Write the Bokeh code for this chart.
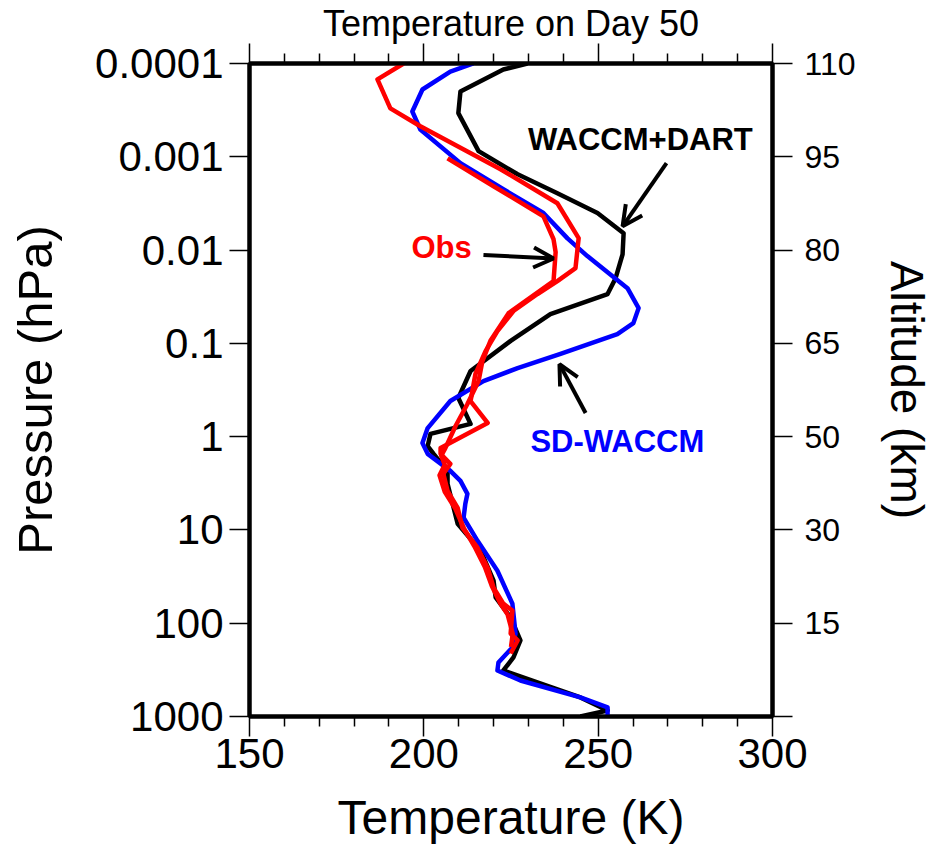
from bokeh.plotting import figure
from bokeh.models import Range1d, LogAxis, LinearAxis, FixedTicker, Arrow, OpenHead, Label
from bokeh.embed import file_html
from bokeh.resources import INLINE

# ---------------- data ----------------
pressure_ticks = [1e-4, 1e-3, 1e-2, 1e-1, 1, 10, 100, 1000]
pressure_labels = ["0.0001", "0.001", "0.01", "0.1", "1", "10", "100", "1000"]
altitude_labels = ["110", "95", "80", "65", "50", "30", "15", ""]
temp_ticks = [150, 200, 250, 300]
temp_labels = ["150", "200", "250", "300"]
temp_minor = [160, 170, 180, 190, 210, 220, 230, 240, 260, 270, 280, 290]

waccm_dart_T = [229.7, 222.8, 210.5, 209.9, 215.7, 226.9, 238.3, 249.8, 257.3, 257.0, 255.0,
                252.7, 236.3, 224.9, 213.4, 209.9, 213.4, 201.9, 201.1, 202.8, 206.8, 206.8,
                209.7, 216.3, 220.0, 220.6, 224.9, 227.7, 225.7, 222.8, 244.9, 252.7, 244.9]
waccm_dart_p = [1e-4, 1.16e-4, 2.0e-4, 3.4e-4, 8.7e-4, 1.54e-3, 2.46e-3, 4.0e-3, 6.6e-3, 0.0111,
                0.020, 0.0296, 0.0485, 0.094, 0.198, 0.385, 0.73, 0.935, 1.26, 1.53, 2.33, 3.2,
                8.6, 16.7, 35, 53, 87, 153, 233, 321, 625, 863, 1000]

sd_waccm_T = [214.2, 207.6, 199.6, 196.7, 199.0, 210.5, 222.8, 234.3, 241.2, 246.9, 258.4, 261.6,
              260.1, 255.5, 239.2, 226.9, 217.1, 207.6, 201.1, 199.6, 201.1, 207.6, 210.5, 212.5,
              211.9, 211.4, 215.4, 221.1, 225.4, 226.3, 225.4, 221.4, 221.1, 227.7, 244.9, 252.7, 252.7]
sd_waccm_p = [1e-4, 1.22e-4, 1.9e-4, 3.27e-4, 5.1e-4, 1.17e-3, 2.23e-3, 4.0e-3, 7.5e-3, 0.0116,
              0.0256, 0.0419, 0.0607, 0.0796, 0.130, 0.184, 0.254, 0.415, 0.81, 1.17, 1.53, 2.33,
              2.98, 4.1, 5.25, 7.4, 13.1, 27.4, 61.7, 129, 182, 264, 321, 411, 625, 800, 1000]

obs1_T = [194.2, 186.7, 190.4, 199.0, 222.0, 238.3, 244.4, 243.5, 238.3, 232.6, 225.7, 221.1,
          217.7, 214.8, 213.4, 218.3, 204.8, 204.8, 207.6, 205.6, 206.8, 209.7, 211.1, 215.4,
          218.3, 220.0, 222.8, 225.4, 224.9, 226.9, 224.9]
obs1_p = [1e-4, 1.48e-4, 3.03e-4, 4.7e-4, 1.36e-3, 3.15e-3, 7.46e-3, 0.0156, 0.0215, 0.0296,
          0.045, 0.0738, 0.121, 0.213, 0.415, 0.713, 1.32, 1.53, 1.96, 2.5, 3.81, 5.8, 9.5,
          15.5, 25.4, 41.6, 61.7, 73.3, 129, 153, 211]

obs2_T = [206.8, 220.0, 234.3, 237.2, 237.8, 237.2, 224.3, 219.1, 216.8, 215.7, 212.5, 209.1,
          206.2, 205.0, 206.0, 204.5, 206.0, 209.0, 211.5, 214.5, 217.5, 219.5, 222.0, 224.0,
          225.5, 225.0]
obs2_p = [1.04e-3, 2.07e-3, 4.35e-3, 7.66e-3, 0.0105, 0.0215, 0.0475, 0.094, 0.155, 0.254,
          0.447, 0.77, 1.32, 1.6, 2.0, 2.6, 3.9, 5.9, 9.6, 15, 25, 40, 62, 80, 130, 180]

FONT = "Liberation Sans"

p = figure(width=938, height=851, x_range=Range1d(150, 300), y_range=Range1d(1000, 1e-4),
           y_axis_type="log", output_backend="svg", toolbar_location=None,
           x_axis_location=None, y_axis_location=None,
           title="Temperature on Day 50",
           min_border_left=249, min_border_right=166, min_border_top=62, min_border_bottom=135)
p.grid.visible = False
p.outline_line_color = "black"
p.outline_line_width = 4
p.background_fill_color = "white"
p.border_fill_color = "white"
p.title.text_font = FONT
p.title.text_font_size = "36px"
p.title.text_font_style = "normal"
p.title.text_color = "black"
p.title.align = "center"
p.title.offset = 0
p.title.standoff = 0


def style_axis(ax, tick_size, label_size):
    ax.axis_line_width = 4
    ax.axis_line_color = "black"
    ax.major_tick_line_width = 1.5
    ax.minor_tick_line_width = 1.5
    ax.major_tick_in = 0
    ax.minor_tick_in = 0
    ax.major_tick_out = 20
    ax.minor_tick_out = 10
    ax.major_label_text_font = FONT
    ax.major_label_text_font_size = tick_size
    ax.major_label_text_color = "black"
    ax.axis_label_text_font = FONT
    ax.axis_label_text_font_size = label_size
    ax.axis_label_text_font_style = "normal"
    ax.axis_label_text_color = "black"


left = LogAxis(ticker=FixedTicker(ticks=pressure_ticks, minor_ticks=[]),
               major_label_overrides=dict(zip(pressure_ticks, pressure_labels)),
               axis_label="Pressure (hPa)")
style_axis(left, "42px", "49px")
left.major_label_standoff = 6
left.axis_label_standoff = 30
p.add_layout(left, "left")

right = LogAxis(ticker=FixedTicker(ticks=pressure_ticks, minor_ticks=[]),
                major_label_overrides=dict(zip(pressure_ticks, altitude_labels)),
                axis_label="Altitude (km)")
style_axis(right, "32px", "46px")
right.major_label_standoff = 12
right.axis_label_standoff = 22
p.add_layout(right, "right")

bottom = LinearAxis(ticker=FixedTicker(ticks=temp_ticks, minor_ticks=temp_minor),
                    major_label_overrides=dict(zip(temp_ticks, temp_labels)),
                    axis_label="Temperature (K)")
style_axis(bottom, "42px", "48px")
bottom.major_label_standoff = 2
bottom.axis_label_standoff = 20
p.add_layout(bottom, "below")

top = LinearAxis(ticker=FixedTicker(ticks=temp_ticks, minor_ticks=temp_minor),
                 major_label_overrides={t: "" for t in temp_ticks})
style_axis(top, "10px", "10px")
top.major_label_standoff = 0
p.add_layout(top, "above")

p.line(waccm_dart_T, waccm_dart_p, line_color="black", line_width=4.5, line_join="round")
p.line(sd_waccm_T, sd_waccm_p, line_color="#0000ff", line_width=4.5, line_join="round")
p.line(obs1_T, obs1_p, line_color="#ff0000", line_width=4.5, line_join="round")
p.line(obs2_T, obs2_p, line_color="#ff0000", line_width=4.5, line_join="round")

# annotations
p.add_layout(Label(x=262.1, y=6.5e-4, text="WACCM+DART", text_align="center",
                   text_baseline="middle", text_font=FONT, text_font_style="bold",
                   text_font_size="31px", text_color="black"))
p.add_layout(Arrow(end=OpenHead(size=20, line_width=4, line_color="black"),
                   x_start=269.6, y_start=1.17e-3, x_end=257.0, y_end=5.56e-3,
                   line_width=4, line_color="black"))

p.add_layout(Label(x=205.1, y=0.0093, text="Obs", text_align="center",
                   text_baseline="middle", text_font=FONT, text_font_style="bold",
                   text_font_size="31px", text_color="#ff0000"))
p.add_layout(Arrow(end=OpenHead(size=20, line_width=4, line_color="black"),
                   x_start=217.1, y_start=0.0113, x_end=237.2, y_end=0.0123,
                   line_width=4, line_color="black"))

p.add_layout(Label(x=255.5, y=1.14, text="SD-WACCM", text_align="center",
                   text_baseline="middle", text_font=FONT, text_font_style="bold",
                   text_font_size="31px", text_color="#0000ff"))
p.add_layout(Arrow(end=OpenHead(size=20, line_width=4, line_color="black"),
                   x_start=246.4, y_start=0.557, x_end=238.9, y_end=0.167,
                   line_width=4, line_color="black"))

open("out.html", "w").write(file_html(p, INLINE))
